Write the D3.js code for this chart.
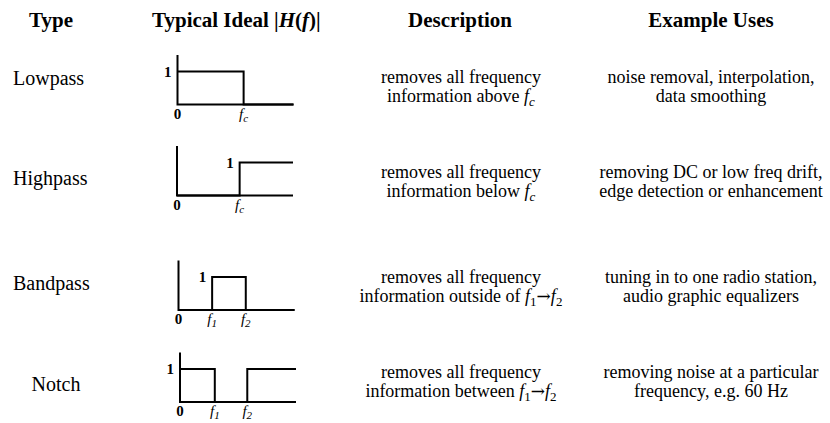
<!DOCTYPE html>
<html><head><meta charset="utf-8">
<script src="https://cdn.jsdelivr.net/npm/d3@7"></script>
<style>
body{margin:0;background:#fff}
svg{display:block}
text{font-family:"Liberation Serif","Times New Roman",serif;fill:#000}
</style>
</head><body>
<svg id="chart" width="830" height="423"></svg>
<script>
// ---------- data ----------
const headers = ["Type", "Typical Ideal |H(f)|", "Description", "Example Uses"];
const filterTypes = ["Lowpass", "Highpass", "Bandpass", "Notch"];
// ideal magnitude responses: [frequency, |H(f)|] breakpoints (frequency in arbitrary units 0..10)
const lowpassResponse  = [[0, 1], [5.7, 1], [5.7, 0], [10, 0]];
const highpassResponse = [[0, 0], [5.4, 0], [5.4, 1], [10, 1]];
const bandpassResponse = [[0, 0], [2.9, 0], [2.9, 1], [5.8, 1], [5.8, 0], [10, 0]];
const notchResponse    = [[0, 1], [3.0, 1], [3.0, 0], [5.8, 0], [5.8, 1], [10, 1]];
// frequency tick labels: [frequency, main, subscript]
const lowpassTicks  = [[0, "0", ""], [5.7, "f", "c"]];
const highpassTicks = [[0, "0", ""], [5.4, "f", "c"]];
const bandpassTicks = [[0, "0", ""], [2.9, "f", "1"], [5.8, "f", "2"]];
const notchTicks    = [[0, "0", ""], [3.0, "f", "1"], [5.8, "f", "2"]];
// frequency where the passband level "1" is labelled
const unityLabelFreq = [0, 5.4, 2.9, 0];
// descriptions: lines of segments [text, style]  (n normal, i italic, si italic subscript, s subscript, a arrow)
const descriptions = [
  [[["removes all frequency", "n"]], [["information above ", "n"], ["f", "i"], ["c", "si"]]],
  [[["removes all frequency", "n"]], [["information below ", "n"], ["f", "i"], ["c", "si"]]],
  [[["removes all frequency", "n"]], [["information outside of ", "n"], ["f", "i"], ["1", "s"], ["\u2192", "a"], ["f", "i"], ["2", "s"]]],
  [[["removes all frequency", "n"]], [["information between ", "n"], ["f", "i"], ["1", "s"], ["\u2192", "a"], ["f", "i"], ["2", "s"]]]
];
const exampleUses = [
  ["noise removal, interpolation,", "data smoothing"],
  ["removing DC or low freq drift,", "edge detection or enhancement"],
  ["tuning in to one radio station,", "audio graphic equalizers"],
  ["removing noise at a particular", "frequency, e.g. 60 Hz"]
];
const responses = [lowpassResponse, highpassResponse, bandpassResponse, notchResponse];
const ticks = [lowpassTicks, highpassTicks, bandpassTicks, notchTicks];

// ---------- layout ----------
const svg = d3.select("#chart");
const rowBase = [104.5, 195.5, 310, 402];       // baseline y of each diagram
const rowAxisX = [177.5, 177, 178.5, 180];       // y-axis x position of each diagram
const diagW = 116, unitH = 33;
const textRowY = [83, 178, 283, 378];           // first text baseline per row
const labelY = [85, 185, 290, 391];
const lineGap = 19;

// headers
const headerG = svg.append("g").attr("font-weight", "bold").attr("font-size", 21);
headerG.append("text").attr("x", 51).attr("y", 27).attr("text-anchor", "middle").text(headers[0]);
const h2 = headerG.append("text").attr("x", 152).attr("y", 27);
h2.append("tspan").text("Typical Ideal |");
h2.append("tspan").attr("font-style", "italic").text("H");
h2.append("tspan").text("(");
h2.append("tspan").attr("font-style", "italic").text("f");
h2.append("tspan").text(")|");
headerG.append("text").attr("x", 460).attr("y", 27).attr("text-anchor", "middle").text(headers[2]);
headerG.append("text").attr("x", 711).attr("y", 27).attr("text-anchor", "middle").text(headers[3]);

// row labels
svg.append("g").selectAll("text").data(filterTypes).join("text")
  .attr("x", (d, i) => i === 3 ? 56 : 13)
  .attr("text-anchor", (d, i) => i === 3 ? "middle" : "start")
  .attr("y", (d, i) => labelY[i])
  .attr("font-size", 20)
  .text(d => d);

// diagrams
responses.forEach((resp, i) => {
  const x = d3.scaleLinear().domain([0, 10]).range([rowAxisX[i], rowAxisX[i] + diagW]);
  const y = d3.scaleLinear().domain([0, 1]).range([rowBase[i], rowBase[i] - unitH]);
  const g = svg.append("g");
  const line = d3.line().x(d => x(d[0])).y(d => y(d[1]));
  g.append("path").attr("d", line([[0, 1.5], [0, 0], [10, 0]]))
    .attr("fill", "none").attr("stroke", "#000").attr("stroke-width", 2);
  g.append("path").attr("d", line(resp))
    .attr("fill", "none").attr("stroke", "#000").attr("stroke-width", 2);
  g.append("text").attr("x", x(unityLabelFreq[i]) - 6).attr("y", y(1) + 5)
    .attr("text-anchor", "end").attr("font-size", 15).attr("font-weight", "bold").text("1");
  ticks[i].forEach(t => {
    const tx = g.append("text").attr("x", x(t[0])).attr("y", y(0) + 14)
      .attr("text-anchor", "middle").attr("font-size", 15);
    if (t[2] === "") tx.attr("font-weight", "bold").text(t[1]);
    else {
      tx.append("tspan").attr("font-style", "italic").text(t[1]);
      tx.append("tspan").attr("font-style", "italic").attr("font-size", 11).attr("dy", 3).text(t[2]);
    }
  });
});

// descriptions
descriptions.forEach((lines, i) => {
  lines.forEach((segs, j) => {
    const t = svg.append("text").attr("x", 461).attr("y", textRowY[i] + j * lineGap)
      .attr("text-anchor", "middle").attr("font-size", 18);
    let sub = false;
    segs.forEach(s => {
      const sp = t.append("tspan").text(s[0]);
      const isSub = s[1] === "s" || s[1] === "si";
      if (s[1] === "i" || s[1] === "si") sp.attr("font-style", "italic");
      if (s[1] === "a") sp.attr("font-family", "DejaVu Serif").attr("font-size", 17);
      if (isSub) sp.attr("font-size", 13);
      if (isSub && !sub) sp.attr("dy", 4);
      if (!isSub && sub) sp.attr("dy", -4);
      sub = isSub;
    });
  });
});

// example uses
exampleUses.forEach((lines, i) => {
  lines.forEach((l, j) => {
    svg.append("text").attr("x", 711).attr("y", textRowY[i] + j * lineGap)
      .attr("text-anchor", "middle").attr("font-size", 18).text(l);
  });
});
</script>
</body></html>
